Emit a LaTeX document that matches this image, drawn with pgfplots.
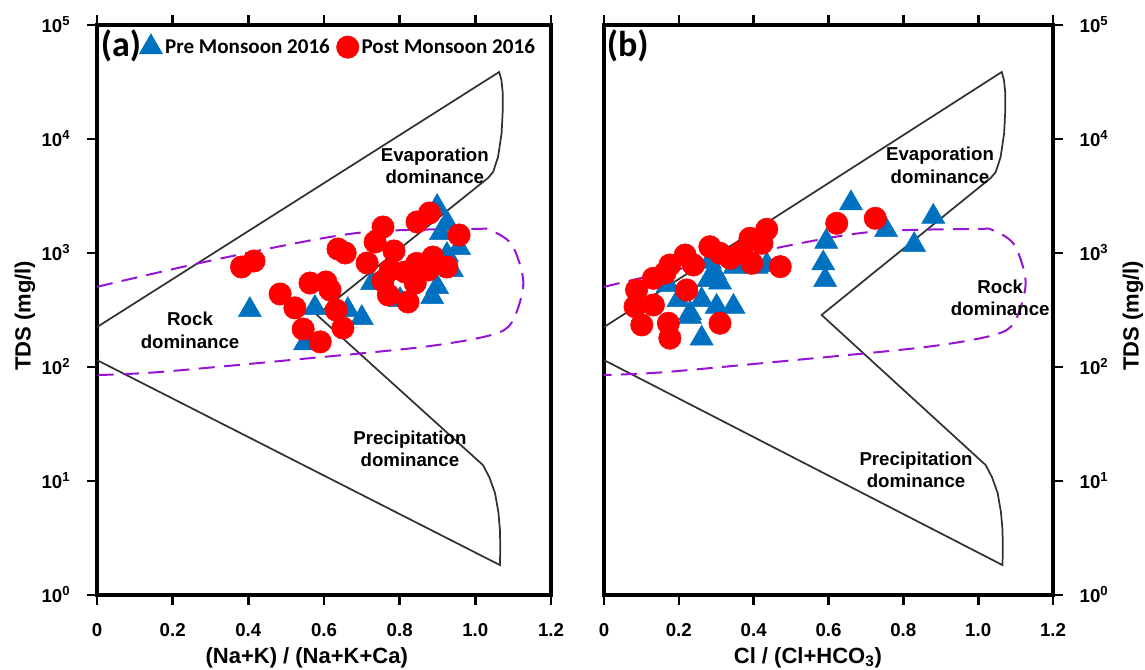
\documentclass[border=0pt]{standalone}
\usepackage{pgfplots}
\pgfplotsset{compat=1.18}
\usepackage{fontspec}
\setmainfont{Liberation Sans}
\newfontfamily\calibri{Carlito}
\definecolor{triblue}{RGB}{0,112,192}
\definecolor{dashpurple}{RGB}{150,20,210}
\definecolor{bline}{RGB}{50,50,50}
\tikzset{
  regtxt/.style={font=\bfseries\fontsize{14}{17}\selectfont, align=center},
  gbound/.style={bline, line width=1.3pt},
  rockdash/.style={dashpurple, line width=1.5pt, dash pattern=on 12pt off 7pt, smooth},
}
\pgfplotsset{
  gibbsaxis/.style={
    scale only axis, height=427.5pt,
    xmin=0, xmax=1.2, ymin=1, ymax=1e5,
    xtick={0,0.2,0.4,0.6,0.8,1.0,1.2},
    xticklabels={0,0.2,0.4,0.6,0.8,1.0,1.2},
    ytick={1,10,100,1000,10000,100000},
    yticklabels={10\textsuperscript{0},10\textsuperscript{1},10\textsuperscript{2},10\textsuperscript{3},10\textsuperscript{4},10\textsuperscript{5}},
    yminorticks=false, xminorticks=false,
    tick align=outside, xtick pos=both, xticklabel pos=bottom,
    major tick length=7.5pt,
    tick style={black, line width=2pt},
    axis line style={line width=2.6pt},
    every outer x axis line/.append style={line width=2.6pt},
    every outer y axis line/.append style={line width=2.6pt},
    tick label style={font=\bfseries\fontsize{14}{16}\selectfont},
    xticklabel style={yshift=-10pt},
    label style={font=\bfseries\fontsize{16.5}{19}\selectfont},
  },
  premark/.style={only marks, mark=triangle*, mark size=10pt, color=triblue},
  postmark/.style={only marks, mark=*, mark size=8.4pt, color=red},
}
\begin{document}
\begin{tikzpicture}
\path[use as bounding box] (-72.75pt,-56.25pt) rectangle (786pt,446.25pt);
% ---------- panel (a)
\begin{semilogyaxis}[gibbsaxis, at={(0pt,0pt)}, anchor=south west, width=340.5pt,
  ytick pos=left,
  yticklabel style={xshift=-9pt},
  xlabel={(Na+K) / (Na+K+Ca)},
  xlabel style={at={(axis description cs:0.462,-0.11)}, anchor=center},
  ylabel={TDS (mg/l)},
  ylabel style={at={(axis description cs:-0.1586,0.49)}, anchor=center},
  legend style={draw=none, fill=none, at={(axis description cs:0.084,0.963)}, anchor=west,
    legend columns=2, font=\calibri\bfseries\fontsize{15.8}{18}\selectfont,
    /tikz/every even column/.append style={column sep=3pt}},
]
\addplot[premark] coordinates {(0.404,316) (0.576,330) (0.550,162) (0.663,316) (0.700,269) (0.727,545) (0.801,387) (0.886,411) (0.899,503) (0.938,709) (0.925,960) (0.957,1107) (0.909,1497) (0.925,1834) (0.899,2533)};
\addlegendentry{Pre Monsoon 2016}
\addplot[postmark] coordinates {(0.382,754) (0.415,851) (0.637,1084) (0.656,1000) (0.563,545) (0.605,557) (0.616,474) (0.484,437) (0.523,330) (0.632,316) (0.545,215) (0.650,220) (0.590,166) (0.714,817) (0.735,1248) (0.756,1690) (0.785,1042) (0.756,568) (0.770,428) (0.822,372) (0.846,1872) (0.879,2244) (0.957,1439) (0.845,811) (0.888,922) (0.925,754) (0.875,709) (0.775,709) (0.841,545) (0.814,681)};
\addlegendentry{Post Monsoon 2016}
\addplot[gbound, forget plot] coordinates {(0,224) (1.063,38700) (1.069,32900) (1.0725,25200) (1.0725,17960) (1.0695,11300) (1.060,6950) (1.047,5140) (1.0336,4550) (0.5815,286) (1.020,13.8) (1.037,10.8) (1.052,7.85) (1.061,5.3) (1.065,3.72) (1.066,2.6) (1.065,1.83) (0,115)};
\addplot[rockdash, forget plot] coordinates {(0,505) (0.333,904) (0.687,1497) (0.994,1624) (1.04,1580) (1.097,1175) (1.127,546) (1.097,248) (1.04,190) (0.862,150) (0.51,115) (0.159,90) (0,85)};
\node[regtxt] at (axis cs:0.893,5800) {Evaporation\\dominance};
\node[regtxt] at (axis cs:0.246,211) {Rock\\dominance};
\node[regtxt] at (axis cs:0.827,19.1) {Precipitation\\dominance};
\node[font=\calibri\bfseries\fontsize{27}{30}\selectfont] at (axis description cs:0.053,0.963) {(a)};
\end{semilogyaxis}
% ---------- panel (b)
\begin{semilogyaxis}[gibbsaxis, at={(380.25pt,0pt)}, anchor=south west, width=336.75pt,
  ytick pos=right, yticklabel pos=right,
  yticklabel style={xshift=9pt},
  xlabel={Cl / (Cl+HCO\textsubscript{3})},
  xlabel style={at={(axis description cs:0.454,-0.11)}, anchor=center},
  ylabel={TDS (mg/l)},
  ylabel style={at={(axis description cs:1.178,0.49)}, anchor=center},
]
\addplot[premark] coordinates {(0.660,2730) (0.880,2080) (0.754,1592) (0.829,1175) (0.594,1257) (0.586,812) (0.591,580) (0.279,580) (0.310,551) (0.346,338) (0.301,338) (0.261,387) (0.230,296) (0.199,387) (0.261,178) (0.283,839) (0.408,759) (0.435,785) (0.297,664) (0.230,276) (0.350,759) (0.171,525)};
\addplot[postmark] coordinates {(0.435,1614) (0.422,1217) (0.390,1346) (0.368,1027) (0.395,812) (0.337,899) (0.310,994) (0.283,1135) (0.471,759) (0.239,785) (0.217,960) (0.176,785) (0.163,668) (0.132,600) (0.087,474) (0.221,474) (0.132,350) (0.083,338) (0.101,234) (0.172,242) (0.176,179) (0.310,242) (0.622,1822) (0.725,2015)};
\addplot[gbound] coordinates {(0,224) (1.063,38700) (1.069,32900) (1.0725,25200) (1.0725,17960) (1.0695,11300) (1.060,6950) (1.047,5140) (1.0336,4550) (0.5815,286) (1.020,13.8) (1.037,10.8) (1.052,7.85) (1.061,5.3) (1.065,3.72) (1.066,2.6) (1.065,1.83) (0,115)};
\addplot[rockdash] coordinates {(0,505) (0.333,904) (0.687,1497) (0.994,1624) (1.04,1580) (1.097,1175) (1.127,546) (1.097,248) (1.04,190) (0.862,150) (0.51,115) (0.159,90) (0,85)};
\node[regtxt] at (axis cs:0.898,5900) {Evaporation\\dominance};
\node[regtxt] at (axis cs:1.059,403) {Rock\\dominance};
\node[regtxt] at (axis cs:0.834,12.5) {Precipitation\\dominance};
\node[font=\calibri\bfseries\fontsize{27}{30}\selectfont] at (axis description cs:0.053,0.963) {(b)};
\end{semilogyaxis}
\end{tikzpicture}
\end{document}
